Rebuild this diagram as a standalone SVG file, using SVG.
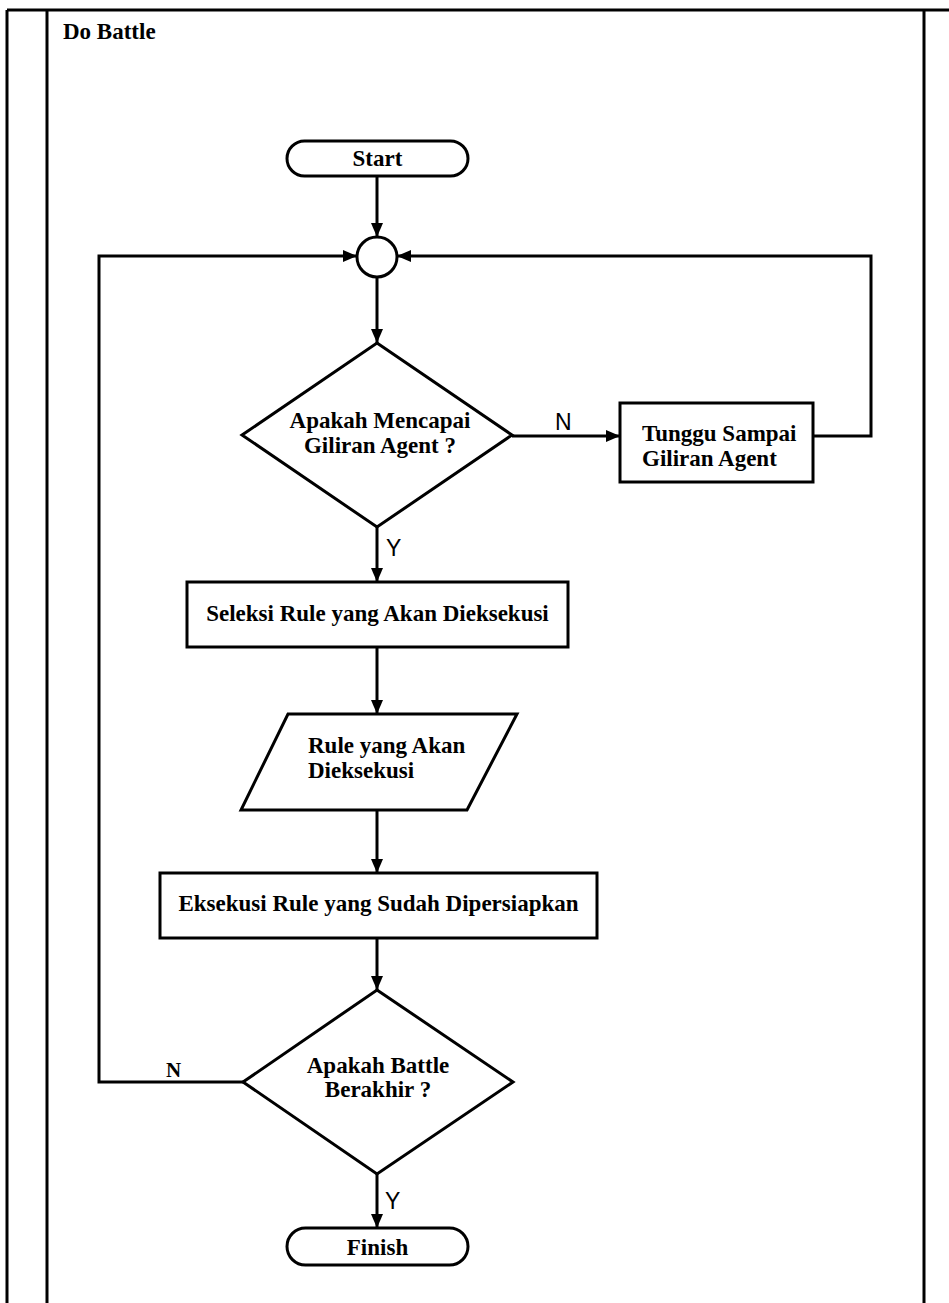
<svg xmlns="http://www.w3.org/2000/svg" width="949" height="1303" viewBox="0 0 949 1303">
  <style>
    .frame { fill: none; stroke: #000; stroke-width: 3; }
    .shape { fill: #fff; stroke: #000; stroke-width: 3; }
    .edge { fill: none; stroke: #000; stroke-width: 3; }
    .t { font-family: "Liberation Serif", "Times New Roman", serif; font-weight: bold; font-size: 23px; fill: #000; text-anchor: middle; }
    .left { text-anchor: start; }
    .lbl { font-family: "Liberation Sans", Arial, sans-serif; font-size: 23px; fill: #000; }
    .lbls { font-family: "Liberation Serif", "Times New Roman", serif; font-weight: bold; font-size: 21px; fill: #000; }
  </style>
  <defs>
    <marker id="arrow" viewBox="0 0 14 12" refX="14" refY="6" markerWidth="14" markerHeight="12" markerUnits="userSpaceOnUse" orient="auto">
      <path d="M0,0 L14,6 L0,12 Z" fill="#000"/>
    </marker>
  </defs>

  <rect width="949" height="1303" fill="#fff"/>

  <!-- swimlane frame -->
  <g id="frame">
    <line class="frame" x1="7" y1="10" x2="949" y2="10"/>
    <line class="frame" x1="7" y1="10" x2="7" y2="1303"/>
    <line class="frame" x1="47" y1="10" x2="47" y2="1303"/>
    <line class="frame" x1="924" y1="10" x2="924" y2="1303"/>
    <text x="63" y="39" class="t left">Do Battle</text>
  </g>

  <!-- connectors -->
  <g id="connectors">
    <line class="edge" x1="377" y1="176" x2="377" y2="237" marker-end="url(#arrow)"/>
    <line class="edge" x1="377" y1="277" x2="377" y2="343" marker-end="url(#arrow)"/>
    <line class="edge" x1="512" y1="436" x2="620" y2="436" marker-end="url(#arrow)"/>
    <polyline class="edge" points="813,436 871,436 871,256 397,256" marker-end="url(#arrow)"/>
    <line class="edge" x1="377" y1="527" x2="377" y2="582" marker-end="url(#arrow)"/>
    <line class="edge" x1="377" y1="647" x2="377" y2="714" marker-end="url(#arrow)"/>
    <line class="edge" x1="377" y1="810" x2="377" y2="873" marker-end="url(#arrow)"/>
    <line class="edge" x1="377" y1="938" x2="377" y2="990" marker-end="url(#arrow)"/>
    <polyline class="edge" points="243,1082 99,1082 99,256 357,256" marker-end="url(#arrow)"/>
    <line class="edge" x1="377" y1="1174" x2="377" y2="1228" marker-end="url(#arrow)"/>
    <text x="555" y="430" class="lbl">N</text>
    <text x="386" y="556" class="lbl">Y</text>
    <text x="166" y="1077" class="lbls">N</text>
    <text x="385" y="1209" class="lbl">Y</text>
  </g>

  <g id="start">
    <rect class="shape" x="287" y="141" width="181" height="35" rx="17.5"/>
    <text x="377.5" y="166" class="t">Start</text>
  </g>

  <g id="merge">
    <circle class="shape" cx="377" cy="257" r="20"/>
  </g>

  <g id="decision-turn">
    <polygon class="shape" points="377,343 512,435 377,527 242,435"/>
    <text x="380" y="428" class="t">Apakah Mencapai</text>
    <text x="380" y="453" class="t">Giliran Agent ?</text>
  </g>

  <g id="wait-turn">
    <rect class="shape" x="620" y="403" width="193" height="79"/>
    <text x="642" y="441" class="t left">Tunggu Sampai</text>
    <text x="642" y="466" class="t left">Giliran Agent</text>
  </g>

  <g id="select-rule">
    <rect class="shape" x="187" y="582" width="381" height="65"/>
    <text x="377.5" y="621" class="t">Seleksi Rule yang Akan Dieksekusi</text>
  </g>

  <g id="rule-data">
    <polygon class="shape" points="288,714 517,714 467,810 241,810"/>
    <text x="308" y="753" class="t left">Rule yang Akan</text>
    <text x="308" y="778" class="t left">Dieksekusi</text>
  </g>

  <g id="execute-rule">
    <rect class="shape" x="160" y="873" width="437" height="65"/>
    <text x="378.5" y="911" class="t">Eksekusi Rule yang Sudah Dipersiapkan</text>
  </g>

  <g id="decision-end">
    <polygon class="shape" points="377,990 513,1082 377,1174 243,1082"/>
    <text x="378" y="1073" class="t">Apakah Battle</text>
    <text x="378" y="1097" class="t">Berakhir ?</text>
  </g>

  <g id="finish">
    <rect class="shape" x="287" y="1228" width="181" height="37" rx="18.5"/>
    <text x="377.5" y="1255" class="t">Finish</text>
  </g>
</svg>
